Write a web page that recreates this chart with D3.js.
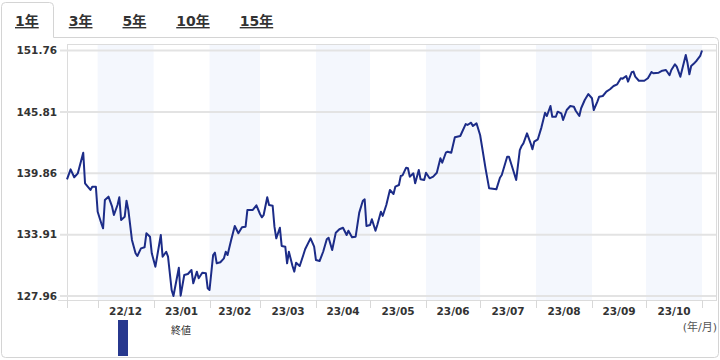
<!DOCTYPE html>
<html>
<head>
    <meta charset="utf-8">
    <title>終値</title>
    <style>
        body {
          margin: 0;
          background: #fff;
          overflow: hidden;
        }
        svg {
          display: block;
          font-family: "DejaVu Sans", "Noto Sans CJK JP", sans-serif;
        }
    </style>
    <script src="https://cdn.jsdelivr.net/npm/d3@7"></script>
</head>
<body>
<script>

    // period tabs, first one is the active one
    var tabs = ["1年", "3年", "5年", "10年", "15年"];

    var yTicks = [127.96, 133.91, 139.86, 145.81, 151.76];

    var startDate = "221114",
        endDate = "231101";

    // closing values (yymmdd)
    var dates = [
        "221114","221116","221118","221120","221123","221124","221127","221128","221130",
        "221201","221203","221204","221205","221207","221209","221210","221212","221213","221214",
        "221216","221217","221218","221220","221222","221223","221225","221227","221228","221230","221231",
        "230102","230105","230106","230108","230109","230111","230112","230115","230116","230118",
        "230120","230122","230123","230125","230126","230128","230130","230131",
        "230201","230203","230204","230205","230207","230209","230210","230211","230213","230215",
        "230217","230219","230221","230222","230225","230227",
        "230301","230302","230303","230305","230306","230308","230309","230310","230312","230313",
        "230315","230316","230317","230319","230320","230321","230323","230325","230326","230329","230331",
        "230401","230403","230405","230407","230408","230410","230412","230414","230416","230418",
        "230419","230421","230423","230425","230427","230428","230429",
        "230501","230502","230504","230505","230507","230508","230510","230512","230514","230515",
        "230517","230518","230519","230521","230522","230523","230525","230526","230528","230529","230531",
        "230601","230603","230605","230607","230609","230610","230612","230613","230615","230617",
        "230620","230623","230624","230626","230627","230629",
        "230701","230702","230704","230706","230710","230712","230713","230716","230717","230719",
        "230721","230723","230724","230725","230727","230729","230730","230731",
        "230802","230804","230806","230807","230809","230810","230812","230813","230815","230816",
        "230818","230820","230822","230823","230825","230826","230828","230830",
        "230901","230902","230904","230905","230907","230909","230911","230913","230915","230917",
        "230918","230920","230921","230923","230924","230925","230927","230930",
        "231002","231004","231005","231008","231010","231012","231014","231015","231017","231018",
        "231020","231023","231024","231025","231026","231028","231029","231031","231101"
    ];

    var closes = [
        139.27,140.24,139.47,139.85,141.85,138.89,138.24,138.56,138.56,136.13,
        135.01,134.52,137.27,137.59,136.62,135.81,136.78,137.53,135.33,135.65,
        137.20,136.30,133.39,132.10,131.84,132.58,132.68,134.04,133.71,132.10,
        130.80,133.87,131.77,132.25,131.77,128.54,127.96,130.70,127.99,130.00,
        130.09,130.48,129.19,130.32,129.68,130.22,130.16,128.71,128.54,131.93,
        132.16,131.13,131.23,131.61,132.25,131.93,133.39,134.75,134.04,134.62,
        134.68,136.30,136.30,136.75,135.91,
        135.59,135.81,137.53,136.78,136.71,134.68,133.55,134.58,132.81,132.74,
        131.13,132.25,130.87,130.32,131.19,130.87,131.93,132.49,133.55,132.74,
        131.45,131.35,132.25,133.46,133.61,132.42,134.10,134.43,134.58,133.87,
        134.29,133.65,133.71,136.04,137.20,137.33,134.75,134.84,135.40,134.29,
        134.84,136.13,135.72,136.78,138.24,137.85,138.56,138.72,139.59,139.66,
        140.40,140.34,139.53,139.85,138.89,140.18,139.27,139.21,139.91,139.37,
        139.53,139.91,141.31,140.88,141.85,141.95,
        141.85,143.35,143.47,144.63,144.54,144.76,144.44,144.70,143.57,142.50,
        140.34,138.40,138.30,139.43,139.69,141.46,141.46,140.34,139.21,142.11,
        142.50,142.76,143.73,142.76,142.18,142.92,143.15,144.31,145.73,145.41,
        146.38,145.34,145.34,145.83,145.67,145.02,145.99,146.38,146.31,145.92,
        145.41,146.16,146.96,147.54,147.13,145.99,146.80,147.28,147.35,147.77,
        148.00,148.32,148.48,149.07,149.03,149.29,148.74,149.65,149.71,149.22,
        148.83,148.83,149.07,149.68,149.55,149.61,149.80,149.87,149.36,149.87,
        150.42,150.19,149.22,151.32,150.52,149.45,150.26,150.58,150.77,151.23,
        151.76
    ];

    var w = 720,
        h = 360;

    // plot box
    var box = {left: 67, right: 716, top: 44, bottom: 300};

    var parseDay = d3.timeParse("%y%m%d");

    var data = dates.map(function(d, i) {
        return {date: parseDay(d), value: closes[i]};
    });

    var svg = d3.select("body").append("svg")
        .attr("width", w)
        .attr("height", h);

    // outer frame with the active tab cut into it
    var tabRight = 53.5;
    svg.append("path")
        .attr("d", "M" + tabRight + ",37.5 H714.5 Q718.5,37.5 718.5,41.5 V353.5 Q718.5,357.5 714.5,357.5" +
                   " H5.5 Q1.5,357.5 1.5,353.5 V6.5 Q1.5,2.5 5.5,2.5 H" + (tabRight - 4) +
                   " Q" + tabRight + ",2.5 " + tabRight + ",6.5 Z")
        .attr("fill", "#fff")
        .attr("stroke", "#d4d4d4")
        .attr("stroke-width", 1);

    // tabs
    var tabX = 15;
    tabs.forEach(function(t) {
        var txt = svg.append("text")
            .text(t)
            .attr("x", tabX)
            .attr("y", 26)
            .attr("font-size", "14px")
            .attr("font-weight", "bold")
            .attr("fill", "#333")
            .attr("text-decoration", "underline");
        tabX += txt.node().getComputedTextLength() + 30;
    });

    var x = d3.scaleTime()
        .domain([parseDay(startDate), parseDay(endDate)])
        .range([box.left, 702]);

    var y = d3.scaleLinear()
        .domain([yTicks[0], yTicks[yTicks.length - 1]])
        .range([box.bottom - 4, box.top + 6.5]);

    svg.append("rect")
        .attr("x", box.left + 0.5)
        .attr("y", box.top + 0.5)
        .attr("width", box.right - box.left)
        .attr("height", box.bottom - box.top)
        .attr("fill", "#fff")
        .attr("stroke", "#dcdcdc");

    // shaded bands for every other month
    var months = d3.timeMonth.range(d3.timeMonth.ceil(x.domain()[0]), x.domain()[1]);
    var bandMonths = months.filter(function(m, i) { return i % 2 === 0; });

    svg.append("g").selectAll("rect")
        .data(bandMonths)
        .enter().append("rect")
        .attr("x", function(d) { return x(d); })
        .attr("width", function(d) { return x(d3.timeMonth.offset(d, 1)) - x(d); })
        .attr("y", box.top + 1)
        .attr("height", box.bottom - box.top - 1)
        .attr("fill", "#f4f7fd");

    // horizontal grid + y labels
    var grid = svg.append("g");
    grid.selectAll("line")
        .data(yTicks)
        .enter().append("line")
        .attr("x1", box.left - 7)
        .attr("x2", box.right)
        .attr("y1", function(d) { return y(d); })
        .attr("y2", function(d) { return y(d); })
        .attr("stroke", "#e3e3e3")
        .attr("stroke-width", 2);

    grid.selectAll("text")
        .data(yTicks)
        .enter().append("text")
        .text(function(d) { return d.toFixed(2); })
        .attr("x", box.left - 10)
        .attr("y", function(d) { return y(d); })
        .attr("dy", "0.36em")
        .attr("text-anchor", "end")
        .attr("font-size", "10.5px")
        .attr("font-weight", "bold")
        .attr("fill", "#333");

    // bottom axis line and month ticks
    svg.append("line")
        .attr("x1", box.left - 9)
        .attr("x2", box.right)
        .attr("y1", box.bottom + 0.5)
        .attr("y2", box.bottom + 0.5)
        .attr("stroke", "#dcdcdc");

    var tickDates = [x.domain()[0]].concat(months).concat([x.domain()[1]]);
    svg.append("g").selectAll("line")
        .data(tickDates)
        .enter().append("line")
        .attr("x1", function(d) { return Math.round(x(d)) + 0.5; })
        .attr("x2", function(d) { return Math.round(x(d)) + 0.5; })
        .attr("y1", box.bottom)
        .attr("y2", box.bottom + 8)
        .attr("stroke", "#d8d8d8");

    var fmt = d3.timeFormat("%y/%m");
    svg.append("g").selectAll("text")
        .data(months)
        .enter().append("text")
        .text(function(d) { return fmt(d); })
        .attr("x", function(d) { return (x(d) + x(d3.timeMonth.offset(d, 1))) / 2; })
        .attr("y", box.bottom + 15)
        .attr("text-anchor", "middle")
        .attr("font-size", "10.5px")
        .attr("font-weight", "bold")
        .attr("fill", "#333");

    svg.append("text")
        .text("(年/月)")
        .attr("x", box.right + 1)
        .attr("y", box.bottom + 31)
        .attr("text-anchor", "end")
        .attr("font-size", "11px")
        .attr("fill", "#555");

    // price line
    var line = d3.line()
        .x(function(d) { return x(d.date); })
        .y(function(d) { return y(d.value); });

    svg.append("path")
        .datum(data)
        .attr("d", line)
        .attr("fill", "none")
        .attr("stroke", "#1c2c88")
        .attr("stroke-width", 2)
        .attr("stroke-linejoin", "round");

    // legend
    svg.append("rect")
        .attr("x", 118)
        .attr("y", 320)
        .attr("width", 10)
        .attr("height", 36)
        .attr("fill", "#27388e");

    svg.append("text")
        .text("終値")
        .attr("x", 171)
        .attr("y", 334)
        .attr("font-size", "10px")
        .attr("fill", "#333");

</script>
</body>
</html>
